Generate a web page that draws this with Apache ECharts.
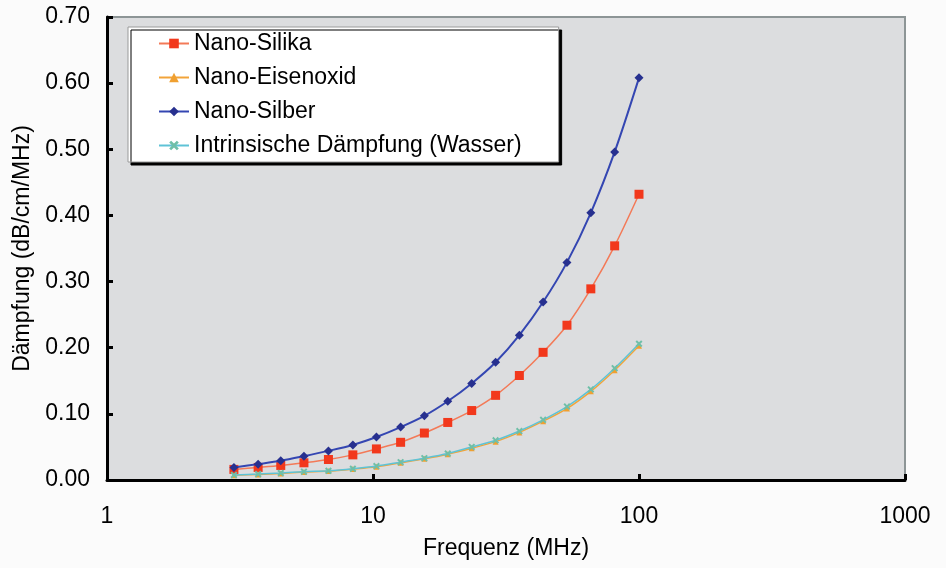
<!DOCTYPE html>
<html>
<head>
<meta charset="utf-8">
<script src="https://cdn.jsdelivr.net/npm/echarts@6/dist/echarts.min.js"></script>
<style>
  html, body { margin: 0; padding: 0; background: #fbfbfb; }
  #main { width: 946px; height: 568px; }
</style>
</head>
<body>
<div id="main"></div>
<script>
// Frequenzen (MHz)
var freq = [3, 3.7, 4.5, 5.5, 6.8, 8.4, 10.3, 12.7, 15.6, 19.1, 23.5, 28.9, 35.5, 43.6, 53.6, 65.9, 81, 100];

// Dämpfung (dB/cm/MHz)
var silika    = [0.016, 0.019, 0.022, 0.026, 0.031, 0.038, 0.047, 0.057, 0.071, 0.087, 0.105, 0.128, 0.158, 0.193, 0.234, 0.289, 0.354, 0.432];
var eisenoxid = [0.0070, 0.0085, 0.0100, 0.0120, 0.0135, 0.0165, 0.0200, 0.0260, 0.0320, 0.0390, 0.0480, 0.0580, 0.0720, 0.0890, 0.1080, 0.1340, 0.1660, 0.2030];
var silber    = [0.019, 0.024, 0.029, 0.036, 0.044, 0.053, 0.065, 0.080, 0.097, 0.119, 0.146, 0.178, 0.219, 0.269, 0.329, 0.404, 0.496, 0.608];
var wasser    = [0.0076, 0.0090, 0.0106, 0.0126, 0.0140, 0.0170, 0.0210, 0.0270, 0.0330, 0.0400, 0.0500, 0.0600, 0.0740, 0.0910, 0.1110, 0.1370, 0.1690, 0.2060];

var names = ['Nano-Silika', 'Nano-Eisenoxid', 'Nano-Silber', 'Intrinsische Dämpfung (Wasser)'];

var pairs = function(vals){
    var res = [];
    for (var i = 0; i < freq.length; i++) {
        res.push([freq[i], vals[i]]);
    }
    return res;
};

var xMark = 'path://M2,0L5,3L8,0L10,2L7,5L10,8L8,10L5,7L2,10L0,8L3,5L0,2Z';
var font = 'Liberation Sans, Arial, sans-serif';
var fs = 23;

var myChart = echarts.init(document.getElementById('main'));
var option = {
    backgroundColor: '#fbfbfb',
    animation: false,
    grid: {
        left: 107,
        right: 41,
        top: 17,
        bottom: 88,
        show: true,
        backgroundColor: '#dcdddf',
        borderColor: '#8d9596',
        borderWidth: 2
    },
    legend: {
        orient: 'vertical',
        left: 128,
        top: 27,
        padding: [5, 37, 5, 30],
        itemGap: 11,
        itemWidth: 30,
        itemHeight: 12,
        backgroundColor: '#ffffff',
        borderColor: '#9a9a9a',
        borderWidth: 1,
        shadowColor: '#000',
        shadowBlur: 0,
        shadowOffsetX: 3,
        shadowOffsetY: 3,
        textStyle: {
            fontFamily: font,
            fontSize: fs,
            lineHeight: 23,
            color: '#000'
        },
        data: names
    },
    xAxis: {
        type: 'log',
        logBase: 10,
        min: 1,
        max: 1000,
        name: 'Frequenz (MHz)',
        nameLocation: 'middle',
        nameGap: 57,
        nameTextStyle: { fontFamily: font, fontSize: fs, color: '#000' },
        axisLine: { show: true, lineStyle: { color: '#000', width: 3 } },
        axisTick: { show: true, inside: true, length: 6, lineStyle: { color: '#000', width: 3 } },
        minorTick: { show: false },
        splitLine: { show: false },
        axisLabel: {
            margin: 25,
            fontFamily: font,
            fontSize: fs,
            color: '#000',
            formatter: function(v){ return String(Math.round(v)); }
        }
    },
    yAxis: {
        type: 'value',
        min: 0,
        max: 0.7,
        interval: 0.1,
        name: 'Dämpfung (dB/cm/MHz)',
        nameLocation: 'middle',
        nameGap: 72,
        nameTextStyle: { fontFamily: font, fontSize: fs, color: '#000' },
        axisLine: { show: true, lineStyle: { color: '#000', width: 3 } },
        axisTick: { show: true, inside: true, length: 6, lineStyle: { color: '#000', width: 3 } },
        splitLine: { show: false },
        axisLabel: {
            margin: 17,
            fontFamily: font,
            fontSize: fs,
            color: '#000',
            formatter: function(v){ return v.toFixed(2); }
        }
    },
    series: [
        {
            name: names[0],
            type: 'line',
            smooth: 0.3,
            z: 3,
            data: pairs(silika),
            symbol: 'rect',
            symbolSize: 9,
            lineStyle: { color: '#f37a58', width: 1.5 },
            itemStyle: { color: '#f2381c' }
        },
        {
            name: names[1],
            type: 'line',
            smooth: 0.3,
            z: 2,
            data: pairs(eisenoxid),
            symbol: 'triangle',
            symbolSize: 6,
            lineStyle: { color: '#f2a43a', width: 1.5 },
            itemStyle: { color: '#f0a030' }
        },
        {
            name: names[2],
            type: 'line',
            smooth: 0.3,
            z: 4,
            data: pairs(silber),
            symbol: 'diamond',
            symbolSize: 9,
            lineStyle: { color: '#3446b2', width: 2 },
            itemStyle: { color: '#27308f' }
        },
        {
            name: names[3],
            type: 'line',
            smooth: 0.3,
            z: 3,
            data: pairs(wasser),
            symbol: xMark,
            symbolSize: 7,
            lineStyle: { color: '#5ec3d6', width: 1.5 },
            itemStyle: { color: '#6fbfa8' }
        }
    ]
};
myChart.setOption(option);
</script>
</body>
</html>
